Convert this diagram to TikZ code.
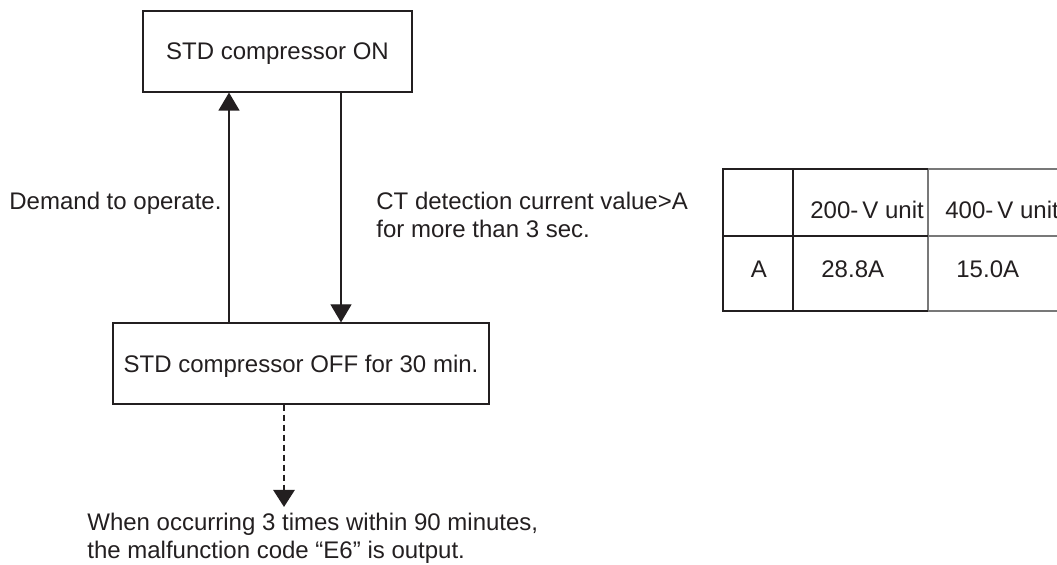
\documentclass[tikz,border=0pt]{standalone}
\usepackage{fontspec}
\setmainfont{Liberation Sans}
\usepackage{xcolor}
\definecolor{inkdark}{RGB}{35,31,32}
\definecolor{inkgrey}{RGB}{120,120,120}
\usetikzlibrary{arrows.meta,positioning,calc}
\tikzset{
  box/.style={draw=inkdark,line width=0.6pt,align=center,inner sep=0pt,minimum height=40.5pt,text depth=0pt,font=\fontsize{12}{14}\selectfont,text=inkdark},
  lab/.style={align=left,inner sep=0pt,font=\fontsize{12}{14}\selectfont,text=inkdark},
  arr/.style={-{Triangle[length=9pt,width=10.5pt]},line width=0.6pt,draw=inkdark},
  dasharr/.style={-{Triangle[length=8.5pt,width=10.5pt]},line width=1.4pt,dash pattern=on 3pt off 2pt,draw=inkdark},
  tline/.style={line width=0.8pt,draw=inkdark},
  tgrey/.style={line width=0.8pt,draw=inkgrey},
}

\begin{document}
\begin{tikzpicture}[x=0.5pt,y=-0.5pt]
    \useasboundingbox (0,0) rectangle (1057,565);
    \clip (0,0) rectangle (1057,565);
    % states
    \node[box,minimum width=134.5pt] (on) at (277.5,51.5) {STD compressor ON};
    \node[box,minimum width=188pt] (off) at (301,363.5) {STD compressor OFF for 30 min.};
    \coordinate (upx) at (229,0);
    \coordinate (dnx) at (341,0);
    \coordinate (errx) at (284,0);
    \coordinate (tip) at (284,507);
    \draw[arr] (off.north -| upx) -- (on.south -| upx);
    \draw[arr] (on.south -| dnx) -- (off.north -| dnx);
    \draw[dasharr] (off.south -| errx) -- (tip);
    % labels (base = last line)
    \node[lab,anchor=base west] (demand) at (9,210) {Demand to operate.};
    \node[lab,anchor=base west] (ct) at (376,238) {CT detection current value>A\\for more than 3 sec.};
    \node[lab,anchor=base west] (note) at (87,559) {When occurring 3 times within 90 minutes,\\the malfunction code “E6” is output.};
    % table of A values
    \draw[tgrey] (928,169) -- (1070,169) (928,236) -- (1070,236) (928,311) -- (1070,311) (928,169) -- (928,311);
    \draw[tline] (928,169) -- (723,169) -- (723,311) -- (928,311);
    \draw[tline] (723,236) -- (928,236) (793,169) -- (793,311);
    \node[lab,anchor=base west] (h200) at (810,219) {200-\,V unit};
    \node[lab,anchor=base west] (h400) at (945,219) {400-\,V unit};
    \node[lab,anchor=base] (ra) at (759,278) {A};
    \node[lab,anchor=base west] (v200) at (821,278) {28.8A};
    \node[lab,anchor=base west] (v400) at (956,278) {15.0A};
\end{tikzpicture}
\end{document}
